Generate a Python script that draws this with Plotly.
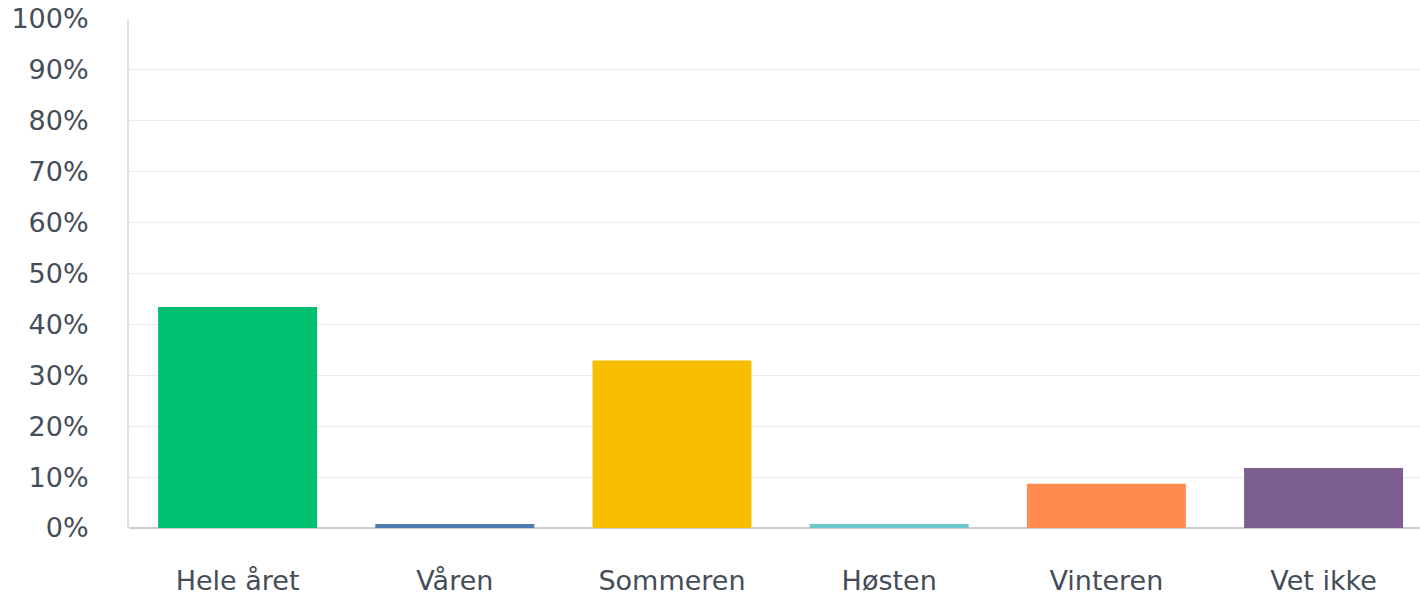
import plotly.graph_objects as go

categories = ["Hele året", "Våren", "Sommeren", "Høsten", "Vinteren", "Vet ikke"]
values = [43.4, 0.8, 32.9, 0.8, 8.7, 11.8]
colors = ["#00BF6F", "#507CB6", "#F9BE00", "#6BC8CD", "#FF8B4F", "#7D5E90"]
y_ticks = list(range(0, 101, 10))
y_tick_labels = [f"{v}%" for v in y_ticks]

fig = go.Figure(
    go.Bar(
        x=list(range(len(categories))),
        y=values,
        marker=dict(color=colors, line=dict(width=0)),
        hoverinfo="skip",
    )
)

font_color = "#454d58"
fig.update_layout(
    width=1420,
    height=596,
    margin=dict(l=129, r=0, t=19, b=68, autoexpand=False),
    paper_bgcolor="white",
    plot_bgcolor="white",
    bargap=0.268,
    showlegend=False,
    font=dict(family="DejaVu Sans", size=27, color=font_color),
    xaxis=dict(
        range=[-0.5, 5.444],
        tickmode="array",
        tickvals=list(range(len(categories))),
        ticktext=categories,
        showgrid=False,
        showline=False,
        zeroline=False,
        ticks="",
        automargin=False,
        ticklabelstandoff=34,
        tickfont=dict(size=27, color=font_color),
    ),
    yaxis=dict(
        range=[0, 100],
        tickmode="array",
        tickvals=y_ticks,
        ticktext=y_tick_labels,
        showgrid=True,
        gridcolor="#ebebeb",
        gridwidth=1,
        zeroline=True,
        zerolinecolor="#cccccc",
        zerolinewidth=2,
        showline=True,
        linecolor="#e0e0e0",
        linewidth=2,
        ticks="",
        automargin=False,
        ticklabelstandoff=33,
        ticklabeloverflow="allow",
        tickfont=dict(size=27, color=font_color),
    ),
)

fig.write_html(
    "out.html",
    config={"displayModeBar": False},
    post_script="document.body.style.margin='0';",
)
